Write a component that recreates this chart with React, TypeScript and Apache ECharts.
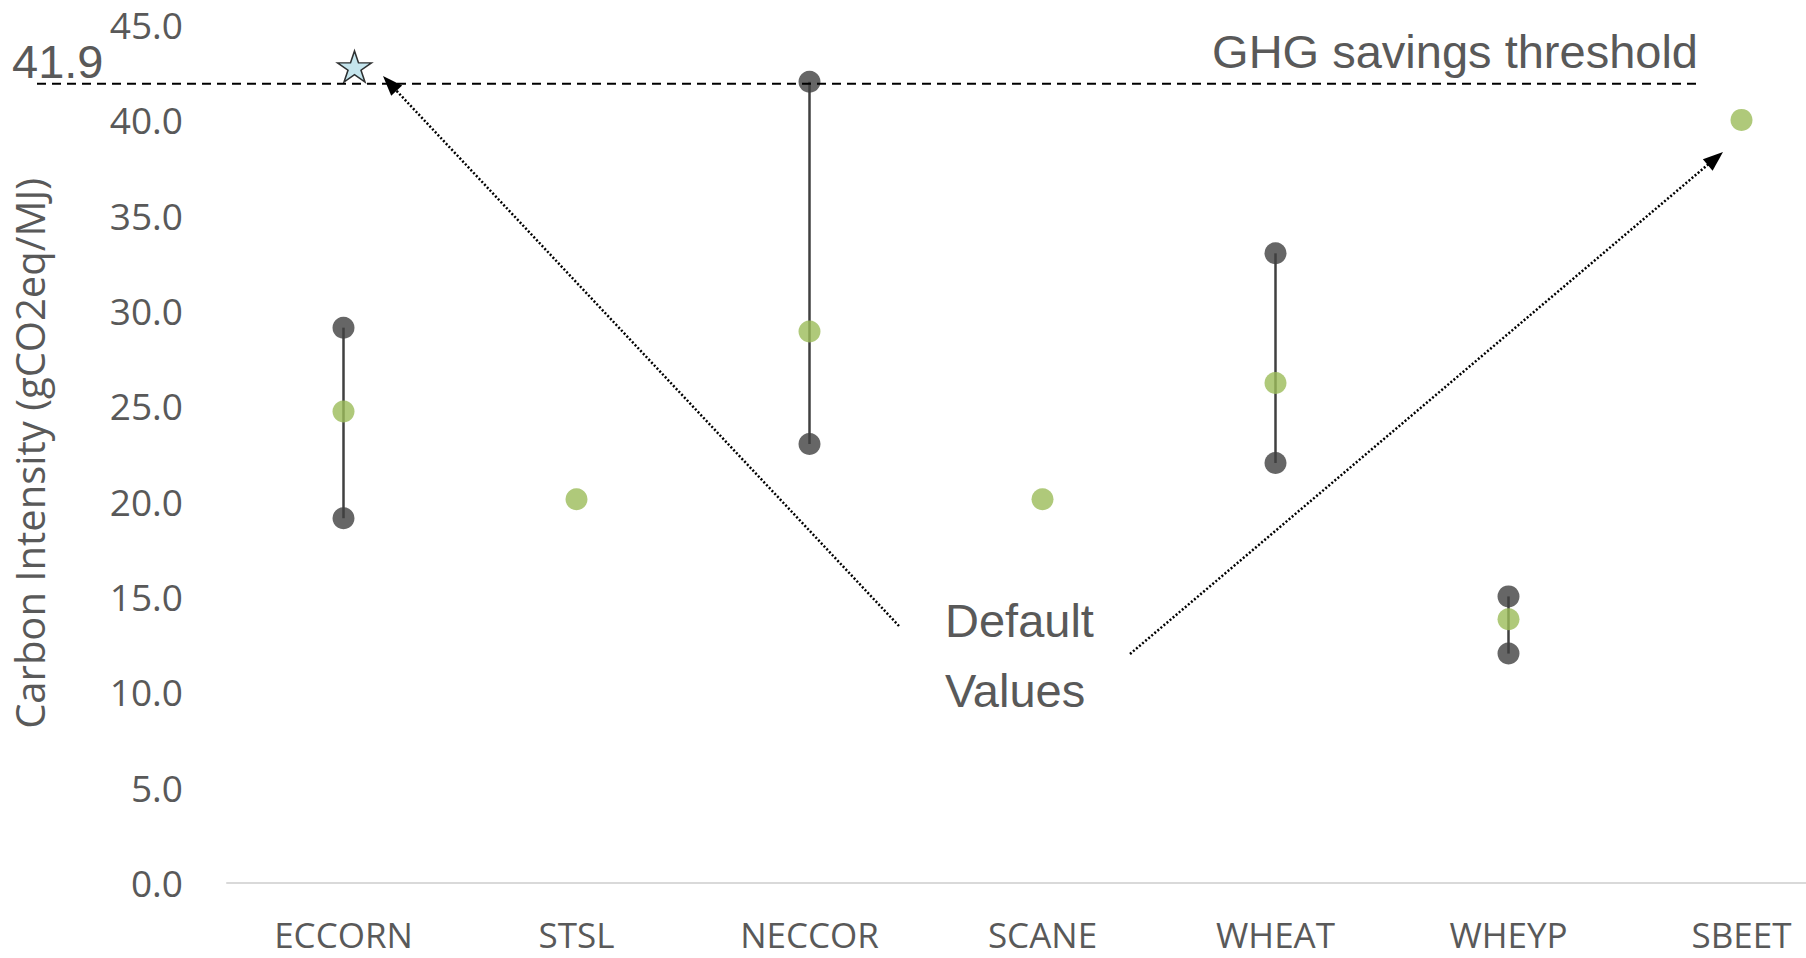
import React, { useEffect, useRef } from "react";
import * as echarts from "echarts";

const categories = ["ECCORN", "STSL", "NECCOR", "SCANE", "WHEAT", "WHEYP", "SBEET"];
const highValues: (number | null)[] = [29.1, null, 42.0, null, 33.0, 15.0, null];
const midValues: (number | null)[] = [24.7, 20.1, 28.9, 20.1, 26.2, 13.8, 40.0];
const lowValues: (number | null)[] = [19.1, null, 23.0, null, 22.0, 12.0, null];
const thresholdValue = 41.9;
const thresholdLabel = "41.9";
const thresholdName = "GHG savings threshold";
const starCategory = "ECCORN";
const starValue = 42.8;
const yMin = 0;
const yMax = 45;
const yInterval = 5;
const yAxisTitle = "Carbon Intensity (gCO2eq/MJ)";
const annotationLines = ["Default", "Values"];

const STAR_PATH =
  "path://M50,0 L61.23,34.55 L97.55,34.55 L68.16,55.9 L79.39,90.45 L50,69.1 L20.61,90.45 L31.84,55.9 L2.45,34.55 L38.77,34.55 Z";

const TEXT_GRAY = "#595959";
const DARK = "#404040";
const GREEN = "#9BBB59";

const VIEW_W = 1806;
const VIEW_H = 958;
const CHART_W = 1858; // plot area runs past the right edge of the picture, as in the reference

function arrowHead(sx: number, sy: number, tx: number, ty: number, len = 20, w = 15) {
  const dx = tx - sx;
  const dy = ty - sy;
  const d = Math.hypot(dx, dy);
  const ux = dx / d;
  const uy = dy / d;
  const bx = tx - ux * len;
  const by = ty - uy * len;
  const nx = -uy;
  const ny = ux;
  return [
    [tx, ty],
    [bx + (nx * w) / 2, by + (ny * w) / 2],
    [bx - (nx * w) / 2, by - (ny * w) / 2],
  ];
}

export default function App() {
  const ref = useRef<HTMLDivElement>(null);

  useEffect(() => {
    document.body.style.margin = "0";
    document.body.style.overflow = "hidden";
    if (!ref.current) return;
    const chart = echarts.init(ref.current, null, { renderer: "svg" });

    const rangeData = categories
      .map((c, i) => [i, lowValues[i], highValues[i]])
      .filter((d) => d[1] != null && d[2] != null);

    const option: any = {
      animation: false,
      backgroundColor: "#ffffff",
      grid: { left: 227, right: 0, top: 24.6, bottom: 75.7, containLabel: false },
      xAxis: {
        type: "category",
        data: categories,
        boundaryGap: true,
        axisLine: { show: true, lineStyle: { color: "#D9D9D9", width: 2 } },
        axisTick: { show: false },
        axisLabel: {
          color: TEXT_GRAY,
          fontFamily: "Open Sans",
          fontSize: 35,
          lineHeight: 34,
          margin: 35,
          interval: 0,
        },
        splitLine: { show: false },
      },
      yAxis: {
        type: "value",
        min: yMin,
        max: yMax,
        interval: yInterval,
        axisLine: { show: false },
        axisTick: { show: false },
        splitLine: { show: false },
        axisLabel: {
          color: TEXT_GRAY,
          fontFamily: "Open Sans",
          fontSize: 37,
          margin: 44,
          formatter: (v: number) => v.toFixed(1),
        },
        name: yAxisTitle,
        nameLocation: "middle",
        nameRotate: 90,
        nameGap: 178,
        nameTextStyle: { color: TEXT_GRAY, fontFamily: "Open Sans", fontSize: 40 },
      },
      series: [
        {
          type: "custom",
          name: "range",
          data: rangeData,
          encode: { x: 0, y: [1, 2] },
          renderItem: (params: any, api: any) => {
            const p1 = api.coord([api.value(0), api.value(1)]);
            const p2 = api.coord([api.value(0), api.value(2)]);
            return {
              type: "line",
              shape: { x1: p1[0], y1: p1[1], x2: p2[0], y2: p2[1] },
              style: { stroke: DARK, lineWidth: 2.5 },
            };
          },
          z: 1,
        },
        {
          type: "scatter",
          name: "High",
          data: highValues.map((v) => (v == null ? "-" : v)),
          symbol: "circle",
          symbolSize: 22,
          itemStyle: { color: DARK },
          z: 2,
        },
        {
          type: "scatter",
          name: "Low",
          data: lowValues.map((v) => (v == null ? "-" : v)),
          symbol: "circle",
          symbolSize: 22,
          itemStyle: { color: DARK },
          z: 2,
        },
        {
          type: "scatter",
          name: "Default",
          data: midValues.map((v) => (v == null ? "-" : v)),
          symbol: "circle",
          symbolSize: 22,
          itemStyle: { color: GREEN },
          z: 3,
        },
        {
          type: "scatter",
          name: "Star",
          data: [[starCategory, starValue]],
          symbol: STAR_PATH,
          symbolSize: [34, 31],
          symbolOffset: [11, 0],
          itemStyle: { color: "#B7DEE8", borderColor: "#000000", borderWidth: 1.5 },
          z: 5,
        },
      ],
    };

    chart.setOption(option);

    const yT = chart.convertToPixel({ yAxisIndex: 0 }, thresholdValue) as number;

    const a1s = [899, 626];
    const a1t = [383, 76];
    const a2s = [1130, 654];
    const a2t = [1723, 152];

    chart.setOption({
      graphic: [
        {
          type: "line",
          shape: { x1: 37, y1: yT, x2: 1700, y2: yT },
          style: { stroke: "#000000", lineWidth: 2, lineDash: [9, 6] },
          z: 4,
        },
        {
          type: "text",
          x: 12,
          y: yT - 22,
          style: {
            text: thresholdLabel,
            font: "47px 'Liberation Sans', Arial, sans-serif",
            fill: TEXT_GRAY,
            align: "left",
            verticalAlign: "middle",
          },
          z: 6,
        },
        {
          type: "text",
          x: 1698,
          y: yT - 32,
          style: {
            text: thresholdName,
            font: "47px 'Liberation Sans', Arial, sans-serif",
            fill: TEXT_GRAY,
            align: "right",
            verticalAlign: "middle",
          },
          z: 6,
        },
        {
          type: "text",
          x: 945,
          y: 620,
          style: {
            text: annotationLines[0],
            font: "47px 'Liberation Sans', Arial, sans-serif",
            fill: TEXT_GRAY,
            align: "left",
            verticalAlign: "middle",
          },
          z: 6,
        },
        {
          type: "text",
          x: 945,
          y: 690,
          style: {
            text: annotationLines[1],
            font: "47px 'Liberation Sans', Arial, sans-serif",
            fill: TEXT_GRAY,
            align: "left",
            verticalAlign: "middle",
          },
          z: 6,
        },
        {
          type: "line",
          shape: { x1: a1s[0], y1: a1s[1], x2: a1t[0] + 10, y2: a1t[1] + 11 },
          style: { stroke: "#000000", lineWidth: 2.5, lineDash: [2, 2] },
          z: 6,
        },
        {
          type: "polygon",
          shape: { points: arrowHead(a1s[0], a1s[1], a1t[0], a1t[1]) },
          style: { fill: "#000000" },
          z: 6,
        },
        {
          type: "line",
          shape: { x1: a2s[0], y1: a2s[1], x2: a2t[0] - 12, y2: a2t[1] + 10 },
          style: { stroke: "#000000", lineWidth: 2.5, lineDash: [2, 2] },
          z: 6,
        },
        {
          type: "polygon",
          shape: { points: arrowHead(a2s[0], a2s[1], a2t[0], a2t[1]) },
          style: { fill: "#000000" },
          z: 6,
        },
      ],
    });

    return () => {
      chart.dispose();
    };
  }, []);

  return (
    <div
      style={{
        position: "absolute",
        left: 0,
        top: 0,
        width: VIEW_W,
        height: VIEW_H,
        overflow: "hidden",
        background: "#fff",
      }}
    >
      <div ref={ref} style={{ width: CHART_W, height: VIEW_H }} />
    </div>
  );
}
